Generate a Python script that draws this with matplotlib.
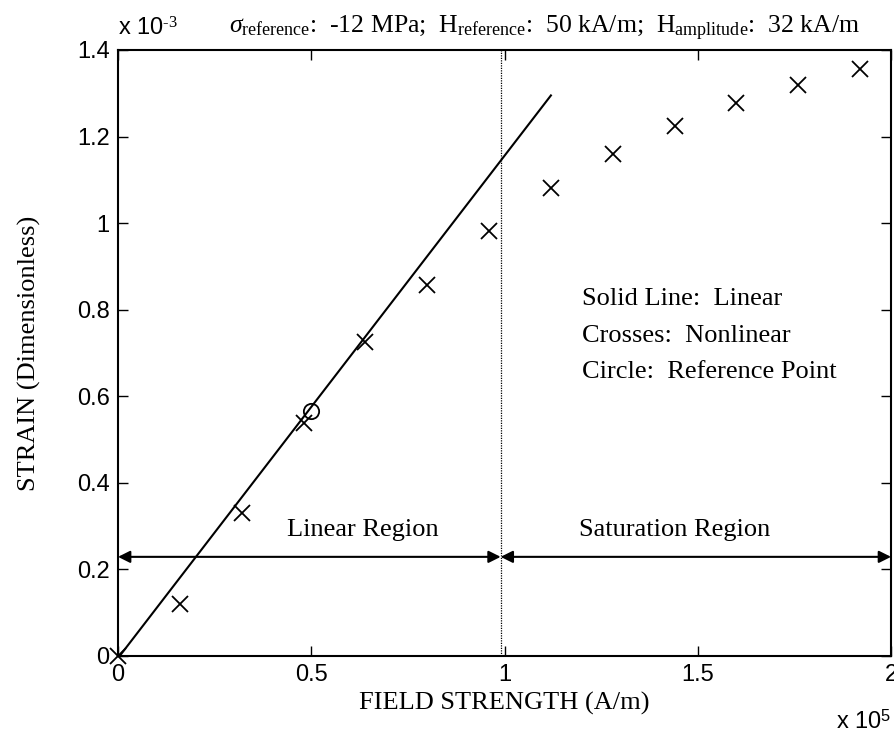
import numpy as np
import matplotlib
matplotlib.use('Agg')
import matplotlib.pyplot as plt

plt.rcParams['font.family'] = 'Liberation Sans'
plt.rcParams['mathtext.fontset'] = 'custom'
plt.rcParams['mathtext.rm'] = 'Liberation Serif'
plt.rcParams['mathtext.it'] = 'Liberation Serif:italic'
plt.rcParams['mathtext.sf'] = 'Liberation Sans'

# field strength (A/m) and strain of the nonlinear model (crosses)
field_nl = np.array([0, 0.16, 0.32, 0.48, 0.64, 0.80, 0.96, 1.12, 1.28, 1.44, 1.60, 1.76, 1.92]) * 1e5
strain_nl = np.array([0, 0.119, 0.331, 0.538, 0.725, 0.857, 0.981, 1.081, 1.160, 1.224, 1.277, 1.320, 1.356]) * 1e-3

# linear model (solid line)
field_lin = np.array([0, 1.12]) * 1e5
strain_lin = np.array([-0.005, 1.295]) * 1e-3

# reference point (circle)
field_ref = [0.5e5]
strain_ref = [0.566e-3]

region_split = 0.99e5
arrow_level = 0.229e-3

serif = 'Liberation Serif'
fs = 19

fig = plt.figure(figsize=(8.94, 7.34), dpi=100)
ax = fig.add_axes([0.132, 0.1063, 0.8647, 0.8256])

ax.plot(field_lin, strain_lin, color='black', lw=1.5)
ax.plot(field_nl, strain_nl, 'x', color='black', ms=12, mew=1.3, clip_on=False)
ax.plot(field_ref, strain_ref, 'o', color='black', mfc='none', ms=11, mew=1.3)

ax.axvline(region_split, color='black', lw=0.9, ls=(0, (1, 1)))

arrow = dict(arrowstyle='<|-|>', color='black', lw=1.5, mutation_scale=18, shrinkA=0, shrinkB=0)
ax.annotate('', xy=(0, arrow_level), xytext=(region_split, arrow_level), arrowprops=arrow)
ax.annotate('', xy=(region_split, arrow_level), xytext=(2e5, arrow_level), arrowprops=arrow)

ax.text(0.633e5, 0.291e-3, 'Linear Region', family=serif, fontsize=fs, ha='center', va='center')
ax.text(1.44e5, 0.291e-3, 'Saturation Region', family=serif, fontsize=fs, ha='center', va='center')

ax.text(1.20e5, 0.825e-3, 'Solid Line:  Linear', family=serif, fontsize=fs, ha='left', va='center')
ax.text(1.20e5, 0.740e-3, 'Crosses:  Nonlinear', family=serif, fontsize=fs, ha='left', va='center')
ax.text(1.20e5, 0.656e-3, 'Circle:  Reference Point', family=serif, fontsize=fs, ha='left', va='center')

ax.set_xlim(0, 2e5)
ax.set_ylim(0, 1.4e-3)
ax.set_xticks(np.arange(0, 2.01e5, 0.5e5))
ax.set_xticklabels(['0', '0.5', '1', '1.5', '2'])
ax.set_yticks(np.arange(0, 1.41e-3, 0.2e-3))
ax.set_yticklabels(['0', '0.2', '0.4', '0.6', '0.8', '1', '1.2', '1.4'])
ax.tick_params(direction='in', top=True, right=True, length=7, width=1, labelsize=17, pad=6)
for s in ax.spines.values():
    s.set_linewidth(1.5)

ax.text(0.0, 1.015, r'x 10$^{\text{-3}}$', transform=ax.transAxes, fontsize=17, ha='left', va='bottom')
ax.text(1.0, -0.09, r'x 10$^{\mathsf{5}}$', transform=ax.transAxes, fontsize=17, ha='right', va='top')

ax.set_xlabel('FIELD STRENGTH (A/m)', family=serif, fontsize=fs, labelpad=4)
ax.set_ylabel('STRAIN (Dimensionless)', family=serif, fontsize=fs, labelpad=26)

title = (r'$\mathit{\sigma}_{\rm reference}$:  -12 MPa;  H$_{\rm reference}$:  50 kA/m;  '
         r'H$_{\rm amplitude}$:  32 kA/m')
ax.text(0.96, 1.012, title, transform=ax.transAxes, family=serif, fontsize=18.5, ha='right', va='bottom')

fig.savefig('out.png', dpi=100)
